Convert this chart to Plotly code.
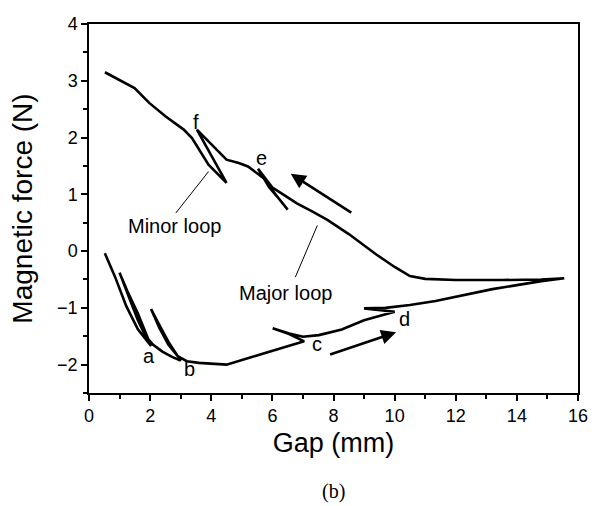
import plotly.graph_objects as go

# Gap sweep: increasing branch (with minor loops a-d), then decreasing branch (minor loops e, f)
gap_mm = [
    0.52, 0.85, 1.22, 1.60, 2.03,
    1.60, 1.25, 1.00,
    1.30, 1.60, 1.85, 2.10, 2.40, 2.70, 3.00,
    2.60, 2.30, 2.03,
    2.30, 2.60, 2.90, 3.20, 3.60, 4.00, 4.50, 5.30, 6.00, 7.04,
    6.55, 6.01,
    6.55, 7.00, 7.52, 8.27, 9.00, 10.00,
    9.00,
    9.70, 10.50, 11.34, 12.20, 13.20, 14.00, 14.80, 15.55,
    14.80, 13.50, 12.00, 11.00, 10.50, 10.00, 9.40, 8.50, 7.80, 7.30, 6.80, 6.40, 6.00, 5.53,
    5.90, 6.20, 6.50,
    6.10, 5.70, 5.20, 4.90, 4.50, 3.53,
    4.50,
    3.91, 3.37, 3.10, 2.51, 1.97, 1.49, 0.52,
]
force_N = [
    -0.04, -0.45, -0.97, -1.38, -1.67,
    -1.10, -0.70, -0.38,
    -0.80, -1.22, -1.50, -1.65, -1.77, -1.86, -1.93,
    -1.60, -1.30, -1.02,
    -1.35, -1.65, -1.85, -1.94, -1.97, -1.98, -2.00, -1.87, -1.76, -1.59,
    -1.46, -1.36,
    -1.45, -1.51, -1.48, -1.38, -1.22, -1.07,
    -1.01,
    -1.00, -0.95, -0.88, -0.78, -0.67, -0.60, -0.53, -0.48,
    -0.50, -0.51, -0.51, -0.49, -0.44, -0.28, -0.06, 0.30, 0.55, 0.70, 0.84, 0.98, 1.12, 1.45,
    1.12, 0.93, 0.73,
    1.00, 1.29, 1.49, 1.55, 1.61, 2.14,
    1.20,
    1.52, 1.99, 2.14, 2.37, 2.61, 2.87, 3.15,
]

# Minor-loop markers
loop_labels = ["a", "b", "c", "d", "e", "f"]
loop_label_x = [1.97, 3.30, 7.47, 10.32, 5.66, 3.49]
loop_label_y = [-1.85, -2.08, -1.64, -1.19, 1.64, 2.28]

FONT = "Liberation Sans, Arial, sans-serif"

fig = go.Figure()
fig.add_trace(go.Scatter(
    x=gap_mm, y=force_N, mode="lines",
    line=dict(color="black", width=2.6),
    showlegend=False, hoverinfo="skip",
))

annotations = []
for t, lx, ly in zip(loop_labels, loop_label_x, loop_label_y):
    annotations.append(dict(x=lx, y=ly, xref="x", yref="y", text=t, showarrow=False,
                            font=dict(family=FONT, size=20, color="black")))

annotations += [
    dict(x=2.81, y=0.45, xref="x", yref="y", text="Minor loop", showarrow=False,
         font=dict(family=FONT, size=20, color="black")),
    dict(x=6.43, y=-0.74, xref="x", yref="y", text="Major loop", showarrow=False,
         font=dict(family=FONT, size=20, color="black")),
    # sweep direction arrows
    dict(x=6.60, y=1.36, ax=8.63, ay=0.66, xref="x", yref="y", axref="x", ayref="y",
         text="", showarrow=True, arrowhead=2, arrowsize=1.15, arrowwidth=2.6, arrowcolor="black"),
    dict(x=10.05, y=-1.43, ax=7.84, ay=-1.83, xref="x", yref="y", axref="x", ayref="y",
         text="", showarrow=True, arrowhead=2, arrowsize=1.15, arrowwidth=2.6, arrowcolor="black"),
    dict(x=0.501, y=-0.268, xref="paper", yref="paper", xanchor="center", yanchor="middle",
         text="(b)", showarrow=False,
         font=dict(family="Liberation Serif, Times New Roman, serif", size=20, color="black")),
]

shapes = [
    dict(type="line", xref="x", yref="y", x0=2.84, y0=0.67, x1=3.91, y1=1.40,
         line=dict(color="black", width=1)),
    dict(type="line", xref="x", yref="y", x0=6.75, y0=-0.46, x1=7.47, y1=0.45,
         line=dict(color="black", width=1)),
]

axis_common = dict(
    showgrid=False, zeroline=False, showline=True, linecolor="black", linewidth=1.5,
    mirror=True, ticks="outside", ticklen=6, tickwidth=1.5, tickcolor="black",
    tickfont=dict(family=FONT, size=18, color="black"),
)

fig.update_layout(
    width=600, height=506,
    margin=dict(l=89, r=16, t=24, b=113),
    paper_bgcolor="white", plot_bgcolor="white",
    xaxis=dict(range=[0, 16], tickmode="linear", tick0=0, dtick=2,
               minor=dict(ticks="outside", ticklen=4, tickwidth=1.5, tickcolor="black", dtick=1),
               title=dict(text="Gap (mm)", font=dict(family=FONT, size=27, color="black"), standoff=8),
               **axis_common),
    yaxis=dict(range=[-2.5, 4], tickmode="array", tickvals=[-2, -1, 0, 1, 2, 3, 4],
               minor=dict(ticks="outside", ticklen=4, tickwidth=1.5, tickcolor="black",
                          tickvals=[-2.5, -1.5, -0.5, 0.5, 1.5, 2.5, 3.5]),
               title=dict(text="Magnetic force (N)", font=dict(family=FONT, size=28, color="black"), standoff=16),
               **axis_common),
    annotations=annotations,
    shapes=shapes,
)

fig.write_html("out.html")
